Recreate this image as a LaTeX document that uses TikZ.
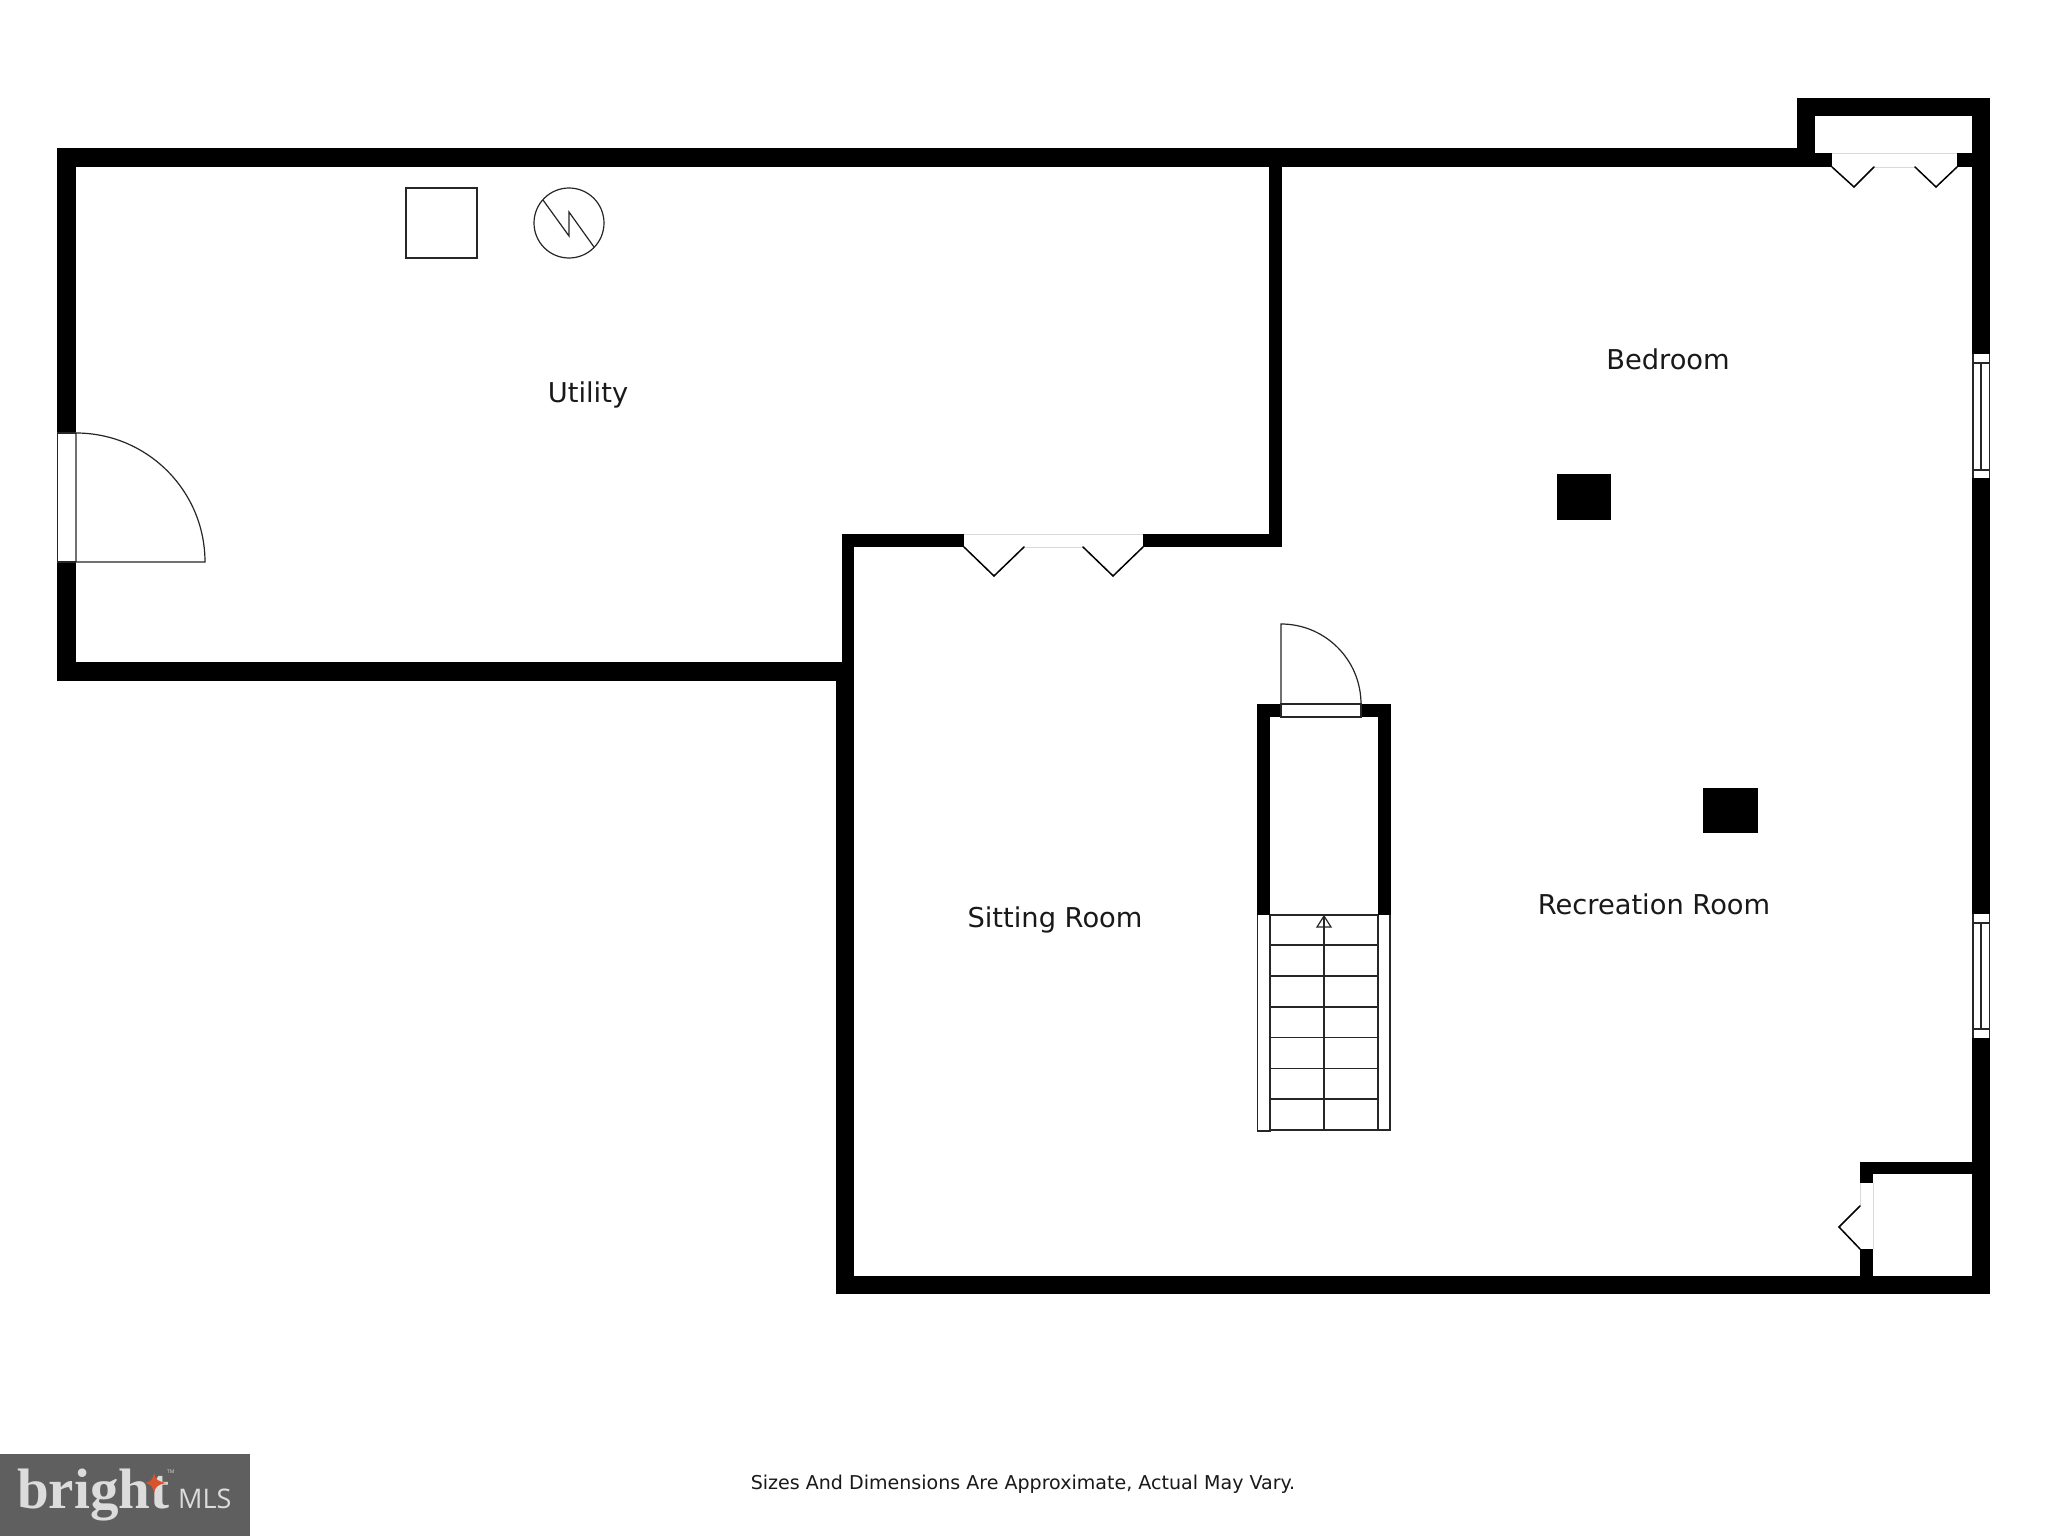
\documentclass[tikz,border=0pt]{standalone}
\usepackage{fontspec}
\setmainfont{DejaVu Sans}
\newfontfamily\logoserif{Liberation Serif}
\newfontfamily\logosans{Open Sans}
\definecolor{logobg}{HTML}{5F5F5F}
\definecolor{logotext}{HTML}{DCDCDC}
\definecolor{logostar}{HTML}{D9532C}
\definecolor{sill}{HTML}{DADADA}
\tikzset{
  wall/.style={fill=black},
  thin line/.style={draw=black!85,line width=1.2pt,line join=miter},
  sash/.style={draw=black,line width=1.5pt,line cap=round},
  sill line/.style={draw=sill,line width=1pt},
  room/.style={font=\fontsize{27.3}{27.3}\selectfont,text=black!90,inner sep=0pt},
  note/.style={font=\fontsize{19.05}{19.05}\selectfont,text=black!90,inner sep=0pt},
}
\begin{document}
\begin{tikzpicture}[x=1pt,y=-1pt]
\useasboundingbox (0,0) rectangle (2048,1536);
\fill[white] (0,0) rectangle (2048,1536);
% walls
\fill[wall] (57,148) rectangle (1815,167);
\fill[wall] (1797,98) rectangle (1990,116);
\fill[wall] (1797,98) rectangle (1815,167);
\fill[wall] (1972,98) rectangle (1990,1294);
\fill[wall] (1815,153) rectangle (1832,167);
\fill[wall] (1957,153) rectangle (1972,167);
\fill[wall] (57,148) rectangle (76,433);
\fill[wall] (57,562) rectangle (76,681);
\fill[wall] (57,662) rectangle (854,681);
\fill[wall] (842,534) rectangle (854,681);
\fill[wall] (836,662) rectangle (854,1294);
\fill[wall] (842,534) rectangle (964,547);
\fill[wall] (1143,534) rectangle (1282,547);
\fill[wall] (1269,148) rectangle (1282,547);
\fill[wall] (836,1276) rectangle (1990,1294);
\fill[wall] (1860,1162) rectangle (1990,1174);
\fill[wall] (1860,1162) rectangle (1873,1183);
\fill[wall] (1860,1249) rectangle (1873,1294);
% stair well walls
\fill[wall] (1257,704) rectangle (1281,717);
\fill[wall] (1361,704) rectangle (1391,717);
\fill[wall] (1257,704) rectangle (1270,915);
\fill[wall] (1378,704) rectangle (1391,915);
% columns
\fill[wall] (1557,474) rectangle (1611,520);
\fill[wall] (1703,788) rectangle (1758,833);
% openings: right windows
\fill[white] (1972,354) rectangle (1990,478);
\fill[white] (1972,914) rectangle (1990,1038);
\draw[thin line] (1973,354) -- (1973,478) (1989.5,354) -- (1989.5,478)
  (1973,363) -- (1989.5,363) (1973,470) -- (1989.5,470) (1981,363) -- (1981,470);
\draw[thin line] (1973,914) -- (1973,1038) (1989.5,914) -- (1989.5,1038)
  (1973,923) -- (1989.5,923) (1973,1029) -- (1989.5,1029) (1981,923) -- (1981,1029);
% top-right closet doors
\draw[sill line] (1832,153.5) -- (1957,153.5) (1874,167) -- (1915,167);
\draw[sash] (1832,167) -- (1854,187) -- (1874,167);
\draw[sash] (1915,167) -- (1936,187) -- (1957,167);
% utility bifold
\draw[sill line] (964,534.5) -- (1143,534.5) (1024,547) -- (1083,547);
\draw[sash] (964,547) -- (994,576) -- (1024,547);
\draw[sash] (1083,547) -- (1113,576) -- (1143,547);
% lower-right closet
\draw[sill line] (1860.5,1183) -- (1860.5,1206) (1873,1183) -- (1873,1249);
\draw[sash] (1860,1206) -- (1839,1227) -- (1860,1249);
% utility door
\draw[thin line] (57.5,433) -- (57.5,562) (76,433) -- (57,433) (76,562) -- (57,562);
\draw[thin line] (76,433) -- (76,562) -- (205,562) arc[start angle=0,end angle=-90,radius=129];
% stair door
\draw[thin line] (1281,704) rectangle (1361,717);
\draw[thin line] (1281,704) -- (1281,624) arc[start angle=-90,end angle=0,radius=80];
% stairs
\draw[thin line] (1257.5,915) -- (1257.5,1131) -- (1270,1131) -- (1270,915);
\draw[thin line] (1378,915) -- (1378,1130) -- (1390,1130) -- (1390,915);
\draw[thin line] (1270,915) -- (1378,915);
\foreach \yy in {945,976,1007,1037.5,1068.5,1099,1130}
  \draw[thin line] (1270,\yy) -- (1378,\yy);
\draw[thin line] (1324,1130) -- (1324,916);
\draw[thin line] (1317,927) -- (1324,916) -- (1331,927) -- cycle;
% utility fixtures
\draw[thin line] (406,188) rectangle (477,258);
\draw[thin line] (569,223) circle[radius=35];
\draw[thin line] (543,200) -- (569,236) -- (569,212) -- (594,247);
% labels
\node[room] (utility) at (588,395) {Utility};
\node[room] (bedroom) at (1668,359) {Bedroom};
\node[room] (sitting) at (1055,920) {Sitting Room};
\node[room] (recreation) at (1654,904) {Recreation Room};
\node[note] (footer) at (1023,1484) {Sizes And Dimensions Are Approximate, Actual May Vary.};
% logo
\fill[logobg] (0,1454) rectangle (250,1536);
\node[inner sep=0pt,anchor=base west,text=logotext,font=\logoserif\bfseries\fontsize{57}{57}\selectfont] (brightword) at (17,1508) {bright};
\node[inner sep=0pt,anchor=base west,text=logotext,font=\logosans\fontsize{27}{27}\selectfont] (mlsword) at (178,1508) {MLS};
\node[inner sep=0pt,anchor=base west,text=logotext,font=\logosans\fontsize{5}{5}\selectfont] (tmword) at (167,1473) {TM};
\fill[logostar] (154,1473) .. controls (155,1479) and (158,1482) .. (167,1483)
  .. controls (158,1484) and (155,1487) .. (154,1493)
  .. controls (153,1487) and (151,1484) .. (145,1483)
  .. controls (151,1482) and (153,1479) .. (154,1473) -- cycle;
\end{tikzpicture}
\end{document}
